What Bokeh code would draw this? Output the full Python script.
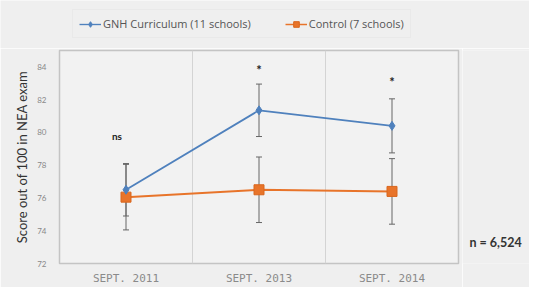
from bokeh.plotting import figure
from bokeh.layouts import row, column
from bokeh.models import (ColumnDataSource, Range1d, FixedTicker, Whisker, Label, Legend, LegendItem)
from bokeh.core.properties import value
from bokeh.embed import file_html
from bokeh.resources import INLINE

# ---- data ----
periods = ["SEPT. 2011", "SEPT. 2013", "SEPT. 2014"]
gnh_mean = [76.5, 81.35, 80.4]
gnh_err = [1.6, 1.6, 1.65]
ctrl_mean = [76.05, 76.5, 76.4]
ctrl_err = [2.0, 2.0, 2.0]
y_ticks = [72, 74, 76, 78, 80, 82, 84]
sig_labels = ["ns", "*", "*"]
sig_y = [79.8, 83.8, 83.1]
series_names = ["GNH Curriculum (11 schools)", "Control (7 schools)"]
sample_note = "n = 6,524"

FONT = "Lato"
BLUE = "#4f81bd"
ORANGE = "#e8742a"
BG = "#efefef"

xs = list(range(len(periods)))

src = ColumnDataSource(dict(
    x=xs,
    g=gnh_mean,
    g_lo=[m - e for m, e in zip(gnh_mean, gnh_err)],
    g_hi=[m + e for m, e in zip(gnh_mean, gnh_err)],
    c=ctrl_mean,
    c_lo=[m - e for m, e in zip(ctrl_mean, ctrl_err)],
    c_hi=[m + e for m, e in zip(ctrl_mean, ctrl_err)],
))


def draw_series(fig, sq=10, dm=9, lw=2):
    cl = fig.line("x", "c", source=src, line_color=ORANGE, line_width=lw)
    cs = fig.scatter("x", "c", source=src, marker="square", size=sq, fill_color=ORANGE, line_color="#d9661c")
    gl = fig.line("x", "g", source=src, line_color=BLUE, line_width=lw * 0.9)
    gs = fig.scatter("x", "g", source=src, marker="diamond", size=dm, fill_color=BLUE, line_color=BLUE)
    return (gl, gs), (cl, cs)


def bare(fig):
    fig.axis.visible = False
    fig.grid.visible = False
    fig.outline_line_color = None
    fig.border_fill_color = BG
    fig.background_fill_color = BG


# ---- legend strip (its own series are drawn outside its view) ----
pl = figure(width=529, height=48, output_backend="svg", toolbar_location=None,
            x_range=Range1d(10, 11), y_range=Range1d(0, 1),
            min_border_left=0, min_border_right=0, min_border_top=0, min_border_bottom=0)
bare(pl)
(lg, lc) = draw_series(pl, sq=8, dm=7, lw=1.5)
legend = Legend(items=[
    LegendItem(label=series_names[0], renderers=list(lg)),
    LegendItem(label=series_names[1], renderers=list(lc)),
], location=(72, 10), orientation="horizontal")
legend.label_text_font = "Open Sans"
legend.label_text_font_size = "11px"
legend.label_text_color = "#555555"
legend.glyph_width = 22
legend.glyph_height = 14
legend.label_standoff = 2
legend.spacing = 34
legend.padding = 6
legend.margin = 0
legend.background_fill_color = BG
legend.background_fill_alpha = 1
legend.border_line_color = "#e4e4e4"
legend.border_line_width = 1
pl.add_layout(legend)

# ---- main chart ----
p = figure(width=462, height=239, output_backend="svg", toolbar_location=None,
           x_range=Range1d(-0.5, 2.5), y_range=Range1d(72, 85),
           min_border_left=59, min_border_right=4, min_border_top=2, min_border_bottom=17)
p.border_fill_color = BG
p.background_fill_color = "#f2f2f2"
p.outline_line_color = "#c4c4c4"
p.outline_line_width = 1.5

p.xaxis.ticker = FixedTicker(ticks=xs)
p.xaxis.major_label_overrides = {i: s for i, s in enumerate(periods)}
p.yaxis.ticker = FixedTicker(ticks=y_ticks)
for ax in (p.xaxis[0], p.yaxis[0]):
    ax.axis_line_color = None
    ax.major_tick_line_color = None
    ax.minor_tick_line_color = None
p.xaxis.major_label_text_font = "DejaVu Sans Mono"
p.xaxis.major_label_text_font_size = "11px"
p.xaxis.major_label_text_color = "#8a8a8a"
p.xaxis.major_label_standoff = 2
p.yaxis.major_label_text_font = FONT
p.yaxis.major_label_text_font_size = "8px"
p.yaxis.major_label_text_color = "#888888"
p.yaxis.major_label_standoff = 7
p.yaxis.axis_label = "Score out of 100 in NEA exam"
p.yaxis.axis_label_text_font = FONT
p.yaxis.axis_label_text_font_style = "normal"
p.yaxis.axis_label_text_font_size = "13px"
p.yaxis.axis_label_text_color = "#333333"
p.yaxis.axis_label_standoff = 4

p.ygrid.visible = False
p.xgrid.ticker = FixedTicker(ticks=[0.5, 1.5])
p.xgrid.grid_line_color = "#d4d4d4"

for lo, hi in (("c_lo", "c_hi"), ("g_lo", "g_hi")):
    w = Whisker(source=src, base="x", lower=lo, upper=hi, line_color="#666666", line_width=1)
    w.upper_head.size = 6
    w.lower_head.size = 6
    w.upper_head.line_color = "#666666"
    w.lower_head.line_color = "#666666"
    p.add_layout(w)

draw_series(p)

sig_src = ColumnDataSource(dict(x=xs, y=sig_y, t=sig_labels, dx=[-9, 0, 0],
                                fs=["10px", "13px", "13px"]))
p.text(x="x", y="y", text="t", x_offset="dx", source=sig_src, text_font=value(FONT),
       text_font_size="fs", text_font_style="bold", text_color="#222222",
       text_align="center", text_baseline="middle")

# ---- side strip with the sample-size note ----
p2 = figure(width=67, height=239, output_backend="svg", toolbar_location=None,
            x_range=Range1d(0, 1), y_range=Range1d(0, 1),
            min_border_left=0, min_border_right=0, min_border_top=0, min_border_bottom=0)
bare(p2)
note = Label(x=7, y=21, x_units="screen", y_units="screen", text=sample_note,
             text_font=FONT, text_font_size="12.5px", text_font_style="bold",
             text_color="#333333", text_baseline="middle")
p2.add_layout(note)

layout = column(pl, row(p, p2, spacing=0), spacing=0)
open("out.html", "w").write(file_html(layout, INLINE))
